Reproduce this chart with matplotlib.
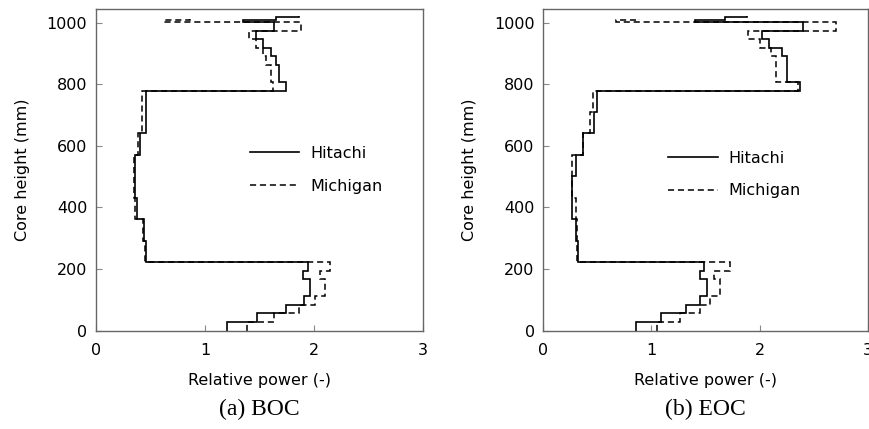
import matplotlib
matplotlib.use("Agg")
import matplotlib.pyplot as plt

# layer boundaries along the core (mm)
edges = [0, 27.75, 55.5, 83.25, 111, 138.75, 166.5, 194.25, 222,
         291.75, 361.5, 431.25, 501, 570.75, 640.5, 710.25, 780,
         807.75, 835.5, 863.25, 891, 918.75, 946.5, 974.25, 1002]

# thin top layers above 1002 mm
top_hit = [1008, 1020, 1021]
top_mich = [1009, 1011]

# BOC relative power per layer
boc_hitachi = [1.20, 1.48, 1.74, 1.91, 1.96, 1.96, 1.90, 1.94,
               0.46, 0.44, 0.38, 0.36, 0.36, 0.41, 0.46, 0.46,
               1.74, 1.68, 1.68, 1.65, 1.61, 1.53, 1.47, 1.63]
boc_hitachi_top = [1.35, 1.65, 1.86]
boc_michigan = [1.39, 1.63, 1.86, 2.01, 2.10, 2.10, 2.05, 2.15,
                0.45, 0.43, 0.36, 0.35, 0.35, 0.39, 0.42, 0.42,
                1.62, 1.61, 1.61, 1.56, 1.53, 1.47, 1.40, 1.88]
boc_michigan_top = [0.63, 0.86]

# EOC relative power per layer
eoc_hitachi = [0.86, 1.09, 1.32, 1.45, 1.51, 1.51, 1.45, 1.49,
               0.32, 0.30, 0.27, 0.27, 0.30, 0.37, 0.47, 0.50,
               2.37, 2.25, 2.25, 2.25, 2.21, 2.09, 2.02, 2.40]
eoc_hitachi_top = [1.40, 1.68, 1.88]
eoc_michigan = [1.05, 1.26, 1.45, 1.54, 1.63, 1.63, 1.58, 1.73,
                0.31, 0.31, 0.30, 0.27, 0.27, 0.37, 0.43, 0.46,
                2.35, 2.15, 2.15, 2.15, 2.10, 2.00, 1.89, 2.70]
eoc_michigan_top = [0.67, 0.89]

x_ticks = [0, 1, 2, 3]
y_ticks = [0, 200, 400, 600, 800, 1000]

fig = plt.figure(figsize=(8.69, 4.29), dpi=100)
ax1 = fig.add_axes([0.1101, 0.2296, 0.377, 0.7494])
ax2 = fig.add_axes([0.6249, 0.2296, 0.374, 0.7494])

dash = (0, (4, 2.5))


def draw_panel(ax, hit, hit_top, mich, mich_top, caption, leg_pos):
    ax.stairs(hit + hit_top, edges + top_hit, orientation="horizontal",
              baseline=None, color="black", lw=1.2, label="Hitachi")
    ax.stairs(mich + mich_top, edges + top_mich, orientation="horizontal",
              baseline=None, color="black", lw=1.1, linestyle=dash,
              label="Michigan")
    ax.set_xlim(0, 3)
    ax.set_ylim(0, 1045)
    ax.set_xticks(x_ticks)
    ax.set_yticks(y_ticks)
    ax.tick_params(direction="in", length=4, width=0.8, color="#888888",
                   labelsize=11.5)
    ax.tick_params(axis="x", pad=9)
    ax.tick_params(axis="y", pad=6)
    for s in ax.spines.values():
        s.set_color("#666666")
        s.set_linewidth(1.0)
    ax.set_xlabel("Relative power (-)", fontsize=11.5, labelpad=11)
    ax.set_ylabel("Core height (mm)", fontsize=11.5, labelpad=12)
    ax.legend(loc="upper left", bbox_to_anchor=leg_pos, frameon=False,
              fontsize=11.5, handlelength=3.1, handletextpad=0.7,
              labelspacing=1.1, borderpad=0, borderaxespad=0)
    ax.text(0.5, -0.247, caption, transform=ax.transAxes, ha="center",
            va="center", fontsize=17, family="Liberation Serif")


draw_panel(ax1, boc_hitachi, boc_hitachi_top, boc_michigan, boc_michigan_top,
           "(a) BOC", (0.471, 0.574))
draw_panel(ax2, eoc_hitachi, eoc_hitachi_top, eoc_michigan, eoc_michigan_top,
           "(b) EOC", (0.385, 0.559))

fig.savefig("out.png", dpi=100)
